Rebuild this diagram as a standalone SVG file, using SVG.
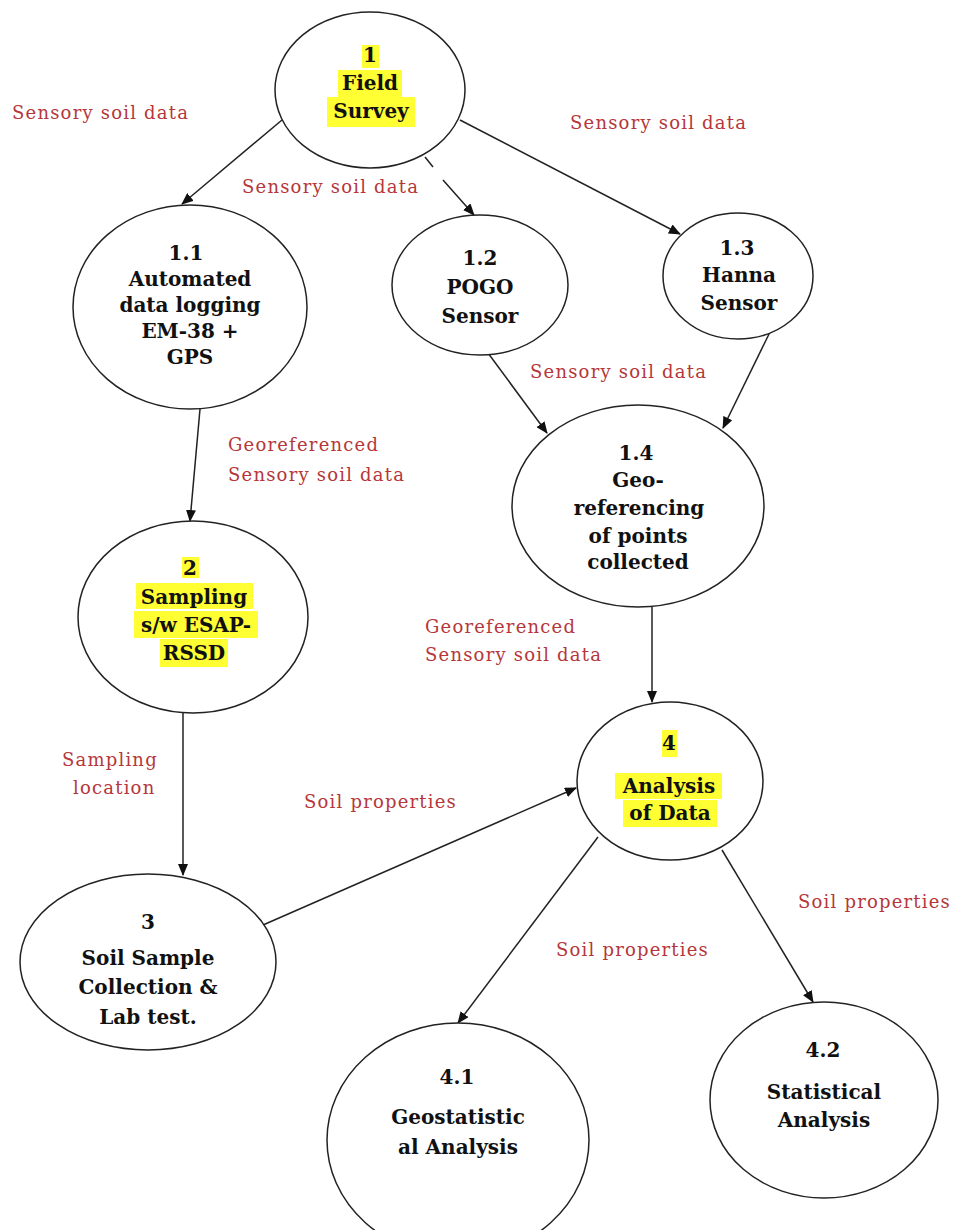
<svg xmlns="http://www.w3.org/2000/svg" width="956" height="1230" viewBox="0 0 956 1230">
<defs>
<marker id="arr" viewBox="0 0 12 10" refX="11" refY="5" markerWidth="12" markerHeight="10" markerUnits="userSpaceOnUse" orient="auto">
<path d="M0,0 L12,5 L0,10 z" fill="#111"/>
</marker>
<style>
.node ellipse{fill:#fff;stroke:#222;stroke-width:1.5}
.nt{font-family:"DejaVu Serif","Liberation Serif",serif;font-weight:bold;font-size:20px;fill:#111;text-anchor:middle}
.lb{font-family:"DejaVu Serif","Liberation Serif",serif;font-size:18px;fill:#b5373a;letter-spacing:1.2px}
.hl{fill:#ffff33}
.edge{fill:none;stroke:#222;stroke-width:1.5;marker-end:url(#arr)}
</style>
</defs>
<rect width="956" height="1230" fill="#fff"/>
<g id="connectors">
<path class="edge" d="M282,120 L182,204"/>
<path class="edge" d="M425,157 L433,167 M443,180 L474,215"/>
<path class="edge" d="M460,120 L680,234"/>
<path class="edge" d="M200,409 L190,521"/>
<path class="edge" d="M488,353 L547,433"/>
<path class="edge" d="M770,332 L723,428"/>
<path class="edge" d="M652,607 L652,702"/>
<path class="edge" d="M183,713 L183,875"/>
<path class="edge" d="M263,925 L576,788"/>
<path class="edge" d="M598,837 L458,1023"/>
<path class="edge" d="M722,850 L813,1002"/>
</g>
<g id="labels">
<text class="lb" x="12" y="119">Sensory soil data</text>
<text class="lb" x="570" y="129">Sensory soil data</text>
<text class="lb" x="242" y="193">Sensory soil data</text>
<text class="lb" x="228" y="451">Georeferenced</text>
<text class="lb" x="228" y="481">Sensory soil data</text>
<text class="lb" x="530" y="378">Sensory soil data</text>
<text class="lb" x="425" y="633">Georeferenced</text>
<text class="lb" x="425" y="661">Sensory soil data</text>
<text class="lb" x="62" y="766">Sampling</text>
<text class="lb" x="73" y="794">location</text>
<text class="lb" x="304" y="808">Soil properties</text>
<text class="lb" x="556" y="956">Soil properties</text>
<text class="lb" x="798" y="908">Soil properties</text>
</g>
<g id="n1" class="node">
<ellipse cx="370" cy="90" rx="95" ry="78"/>
<rect class="hl" x="362" y="45" width="17" height="23"/>
<rect class="hl" x="338" y="70" width="64" height="27"/>
<rect class="hl" x="327" y="97" width="88" height="30"/>
<text class="nt" x="370" y="62">1</text>
<text class="nt" x="370" y="90">Field</text>
<text class="nt" x="371" y="118">Survey</text>
</g>
<g id="n1_1" class="node">
<ellipse cx="190" cy="307" rx="117" ry="102"/>
<text class="nt" x="186" y="260">1.1</text>
<text class="nt" x="190" y="286">Automated</text>
<text class="nt" x="190" y="312">data logging</text>
<text class="nt" x="190" y="338">EM-38 +</text>
<text class="nt" x="190" y="364">GPS</text>
</g>
<g id="n1_2" class="node">
<ellipse cx="480" cy="285" rx="88" ry="70"/>
<text class="nt" x="480" y="265">1.2</text>
<text class="nt" x="480" y="294">POGO</text>
<text class="nt" x="480" y="323">Sensor</text>
</g>
<g id="n1_3" class="node">
<ellipse cx="738" cy="276" rx="75" ry="63"/>
<text class="nt" x="737" y="255">1.3</text>
<text class="nt" x="739" y="282">Hanna</text>
<text class="nt" x="739" y="310">Sensor</text>
</g>
<g id="n1_4" class="node">
<ellipse cx="638" cy="506" rx="126" ry="101"/>
<text class="nt" x="636" y="460">1.4</text>
<text class="nt" x="638" y="487">Geo-</text>
<text class="nt" x="639" y="515">referencing</text>
<text class="nt" x="638" y="543">of points</text>
<text class="nt" x="638" y="569">collected</text>
</g>
<g id="n2" class="node">
<ellipse cx="193" cy="617" rx="115" ry="96"/>
<rect class="hl" x="182" y="557" width="17" height="21"/>
<rect class="hl" x="136" y="583" width="117" height="26"/>
<rect class="hl" x="134" y="611" width="124" height="27"/>
<rect class="hl" x="160" y="639" width="68" height="28"/>
<text class="nt" x="190" y="575">2</text>
<text class="nt" x="194" y="604">Sampling</text>
<text class="nt" x="196" y="632">s/w ESAP-</text>
<text class="nt" x="194" y="660">RSSD</text>
</g>
<g id="n3" class="node">
<ellipse cx="148" cy="962" rx="128" ry="88"/>
<text class="nt" x="148" y="929">3</text>
<text class="nt" x="148" y="965">Soil Sample</text>
<text class="nt" x="148" y="994">Collection &amp;</text>
<text class="nt" x="148" y="1024">Lab test.</text>
</g>
<g id="n4" class="node">
<ellipse cx="670" cy="781" rx="93" ry="79"/>
<rect class="hl" x="662" y="730" width="15" height="27"/>
<rect class="hl" x="615" y="773" width="107" height="26"/>
<rect class="hl" x="623" y="800" width="94" height="27"/>
<text class="nt" x="669" y="750">4</text>
<text class="nt" x="669" y="793">Analysis</text>
<text class="nt" x="670" y="820">of Data</text>
</g>
<g id="n4_1" class="node">
<ellipse cx="458" cy="1140" rx="131" ry="117"/>
<text class="nt" x="457" y="1084">4.1</text>
<text class="nt" x="458" y="1124">Geostatistic</text>
<text class="nt" x="458" y="1154">al Analysis</text>
</g>
<g id="n4_2" class="node">
<ellipse cx="824" cy="1100" rx="114" ry="98"/>
<text class="nt" x="823" y="1057">4.2</text>
<text class="nt" x="824" y="1099">Statistical</text>
<text class="nt" x="824" y="1127">Analysis</text>
</g>
</svg>
